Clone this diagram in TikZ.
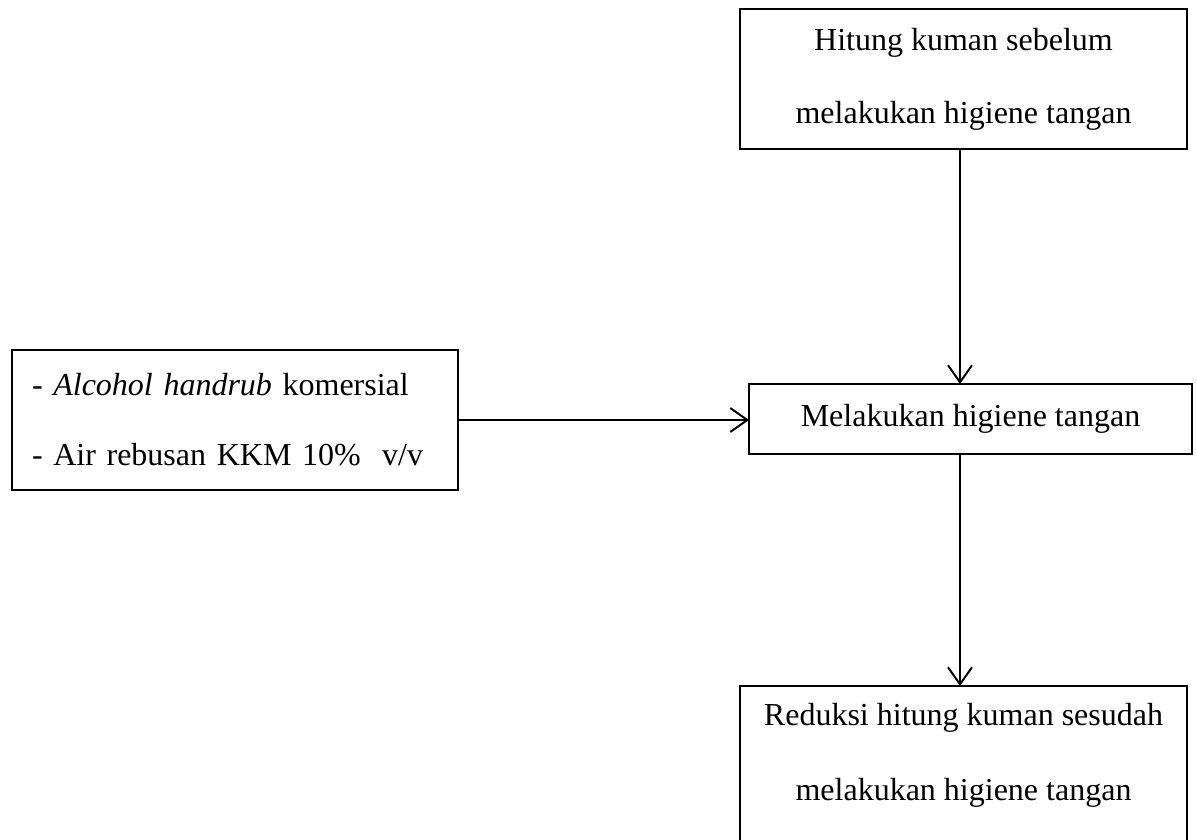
\documentclass[tikz,border=0pt]{standalone}
\usepackage{fontspec}
\setmainfont{Liberation Serif}
\usetikzlibrary{arrows.meta}
\tikzset{
  box/.style={draw=black, line width=2pt, rectangle, inner sep=0pt, outer sep=0pt, align=center},
  arr/.style={draw=black, line width=2pt, -{Straight Barb[length=17pt,width=24pt]}},
  txt/.style={inner sep=0pt, outer sep=0pt, align=center}
}
\begin{document}
\begin{tikzpicture}[x=1pt, y=-1pt]
\useasboundingbox (0,0) rectangle (1197,840);
\fill[white] (0,0) rectangle (1197,840);

\node[box, minimum width=447pt, minimum height=140pt, font=\fontsize{32}{73}\selectfont] (t) at (963.5,79)
  {Hitung kuman sebelum\\melakukan higiene tangan};

\node[box, minimum width=443pt, minimum height=70pt, font=\fontsize{32}{38}\selectfont] (m) at (970.5,419)
  {Melakukan higiene tangan};

\node[box, align=left, text width=406pt, inner xsep=20pt, minimum height=140pt, font=\fontsize{32}{70}\selectfont] (l) at (235,420)
  {- \textit{Alcohol handrub} komersial\\- Air rebusan KKM 10\%\ \ v/v};

\node[box, minimum width=447pt, minimum height=164pt] (b) at (963.5,768) {};
\node[txt, anchor=north, font=\fontsize{32}{75}\selectfont] (bt) at (963.5,703.1)
  {Reduksi hitung kuman sesudah\\melakukan higiene tangan};

\coordinate (ax) at (960,0);
\draw[arr] (t.south -| ax) -- (m.north -| ax);
\draw[arr] (l.east) -- (m.west |- l.east);
\draw[arr] (m.south -| ax) -- (b.north -| ax);
\end{tikzpicture}
\end{document}
